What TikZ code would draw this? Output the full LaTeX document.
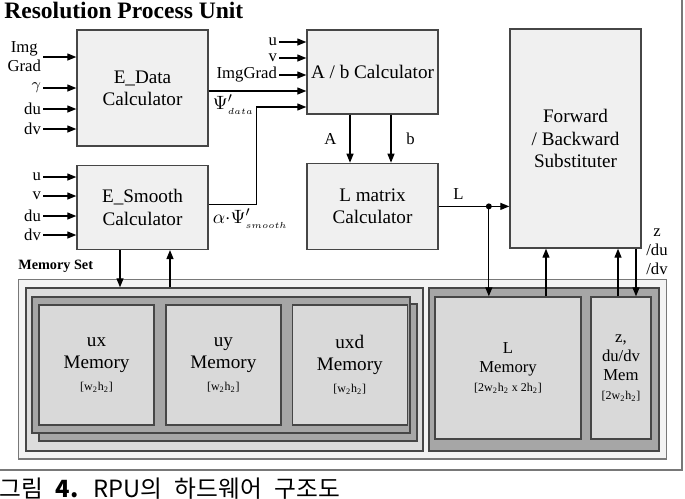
\documentclass[tikz,border=0pt]{standalone}
\usepackage{fontspec}
\setmainfont{Liberation Serif}
\newfontfamily\krfont[WordSpace=2.4]{Noto Sans CJK KR}
\usepackage{xcolor}
\usepackage{tikz}
\usetikzlibrary{arrows.meta, positioning}
\definecolor{blockFill}{RGB}{240, 240, 240}
\definecolor{blockEdge}{RGB}{70, 70, 70}
\definecolor{setFill}{RGB}{243, 243, 243}
\definecolor{setEdge}{RGB}{120, 120, 120}
\definecolor{frameFill}{RGB}{220, 220, 220}
\definecolor{stackFill}{RGB}{166, 166, 166}
\definecolor{memFill}{RGB}{217, 217, 217}
\newcommand{\blockfont}{\fontsize{10.9}{12.6}\selectfont}
\newcommand{\sigfont}{\fontsize{9.5}{10.9}\selectfont}
\newcommand{\headfont}{\fontsize{13.4}{15}\selectfont\bfseries}
\newcommand{\memsetfont}{\fontsize{8.1}{9}\selectfont\bfseries}
\newcommand{\dimfont}{\fontsize{6.8}{8}\selectfont}
\newcommand{\capfont}{\krfont\fontsize{13.5}{15}\selectfont}

\begin{document}
\begin{tikzpicture}[
  x=0.02cm, y=-0.02cm,
  node distance=0.36cm,
  block/.style={rectangle, draw=blockEdge, fill=blockFill, line width=0.8pt, minimum width=2.62cm, inner sep=0pt, align=center, font=\blockfont},
  memblock/.style={rectangle, draw=blockEdge, fill=memFill, line width=0.8pt, minimum height=2.84cm, inner sep=0pt, align=center, font=\blockfont},
  memframe/.style={rectangle, draw=blockEdge, line width=0.8pt, inner sep=0pt},
  sig/.style={font=\sigfont, inner sep=1pt, align=center},
  line/.style={draw=black, line width=0.7pt, -{Triangle[length=1.8mm, width=1.4mm]}}
]
  \useasboundingbox (0,0) rectangle (685,498);
  \draw[setEdge, line width=0.6pt] (-5,-5) rectangle (682,470);
  \node[font=\headfont, anchor=base west, inner sep=0pt] (title) at (4,18) {Resolution Process Unit};

  \node[block, minimum height=2.32cm] (edata) at (142.5,88) {E\_Data\\Calculator};
  \node[block, minimum height=1.68cm, below=of edata] (esmooth) {E\_Smooth\\Calculator};
  \node[block, minimum height=1.68cm] (abcalc) at (372.5,72) {A / b Calculator};
  \node[block, minimum height=1.72cm, below=0.96cm of abcalc] (lcalc) {L matrix\\Calculator};
  \node[block, minimum height=4.38cm] (fwd) at (575.5,138.5) {Forward\\/ Backward\\Substituter};

  \node[font=\memsetfont, anchor=west, inner sep=0pt] (setlabel) at (18,266) {Memory Set};
  \node[rectangle, draw=setEdge, fill=setFill, line width=0.6pt, minimum width=12.98cm, minimum height=3.6cm] (memset) at (342.5,369) {};
  \node[memframe, fill=frameFill, minimum width=7.94cm, minimum height=3.26cm] (uframe) at (224.5,369.5) {};
  \node[memframe, fill=stackFill, minimum width=7.56cm, minimum height=2.74cm] (ustackb) at (228,372.5) {};
  \node[memframe, fill=stackFill, minimum width=7.56cm, minimum height=2.72cm] (ustack) at (221,365) {};
  \node[memblock, minimum width=2.3cm, minimum height=2.4cm] (ux) at (96.5,365) {ux\\Memory\\{\dimfont[w\textsubscript{2}h\textsubscript{2}]}};
  \node[memblock, minimum width=2.3cm, minimum height=2.4cm, right=0.21cm of ux] (uy) {uy\\Memory\\{\dimfont[w\textsubscript{2}h\textsubscript{2}]}};
  \node[memblock, minimum width=2.3cm, minimum height=2.4cm, right=0.2cm of uy] (uxd) {uxd\\Memory\\{\dimfont[w\textsubscript{2}h\textsubscript{2}]}};
  \node[memframe, fill=stackFill, minimum width=4.6cm, minimum height=3.26cm] (lframe) at (544,369.5) {};
  \node[memblock, minimum width=2.92cm, font=\sigfont] (lmem) at (508,368) {L\\Memory\\{\dimfont[2w\textsubscript{2}h\textsubscript{2} x 2h\textsubscript{2}]}};
  \node[memblock, minimum width=1.2cm, font=\sigfont] (zmem) at (621,368) {z,\\du/dv\\Mem\\{\dimfont[2w\textsubscript{2}h\textsubscript{2}]}};

  \foreach \y/\name/\txt in {57/igrad/{Img\\Grad}, 88/gam/{$\gamma$}, 109/du/du, 129/dv/dv} {
    \node[sig, anchor=east] (d\name) at (43,\y) {\txt};
    \path[line] (d\name) -- (d\name -| edata.west);
  }
  \foreach \y/\name/\txt in {177/u/u, 196/v/v, 216/du/du, 235/dv/dv} {
    \node[sig, anchor=east] (s\name) at (43,\y) {\txt};
    \path[line] (s\name) -- (s\name -| esmooth.west);
  }
  \foreach \y/\name/\txt in {42/au/u, 58/av/v, 75/aimg/ImgGrad} {
    \node[sig, anchor=east] (\name) at (279,\y) {\txt};
    \path[line] (\name) -- (\name -| abcalc.west);
  }

  \path[line] ([yshift=-0.06cm]edata.east) node[anchor=north west, font=\blockfont, inner sep=2pt] {$\Psi'_{\scriptscriptstyle data}$} -- ([yshift=-0.06cm]edata.east -| abcalc.west);
  \path[line] ([yshift=0.06cm]esmooth.east) node[anchor=north west, font=\blockfont, inner sep=2pt] {$\alpha{\cdot}\Psi'_{\scriptscriptstyle smooth}$} -- ++(48,0) |- ([yshift=-0.7cm]abcalc.west);
  \path[line] ([xshift=-0.45cm]abcalc.south) -- ([xshift=-0.45cm]lcalc.north) node[midway, left=4pt, font=\sigfont] {A};
  \path[line] ([xshift=0.37cm]abcalc.south) -- ([xshift=0.37cm]lcalc.north) node[midway, right=5pt, font=\sigfont] {b};
  \path[line] (lcalc) -- (lcalc -| fwd.west) coordinate[pos=0.71] (ltap) node[pos=0.28, above, font=\sigfont] {L};
  \fill (ltap) circle[radius=0.06cm];
  \path[line] (ltap) -- (ltap |- lmem.north);

  \path[line] ([xshift=0.76cm]lmem.north) -- ([xshift=0.76cm]lmem.north |- fwd.south);
  \path[line] ([xshift=-0.06cm]zmem.north) -- ([xshift=-0.06cm]zmem.north |- fwd.south);
  \path[line] ([xshift=0.3cm]zmem.north |- fwd.south) -- ([xshift=0.3cm]zmem.north);
  \node[sig] (zlbl) at (657,252) {z\\/du\\/dv};

  \path[line] ([xshift=-0.45cm]esmooth.south) -- ([xshift=-0.45cm]esmooth.south |- uframe.north);
  \path[line] ([xshift=0.55cm]esmooth.south |- uframe.north) -- ([xshift=0.55cm]esmooth.south);

  \node[font=\capfont, anchor=base west, inner sep=0pt] (caption) at (-1,497) {그림 \textbf{4.} RPU의 하드웨어 구조도};
\end{tikzpicture}
\end{document}
